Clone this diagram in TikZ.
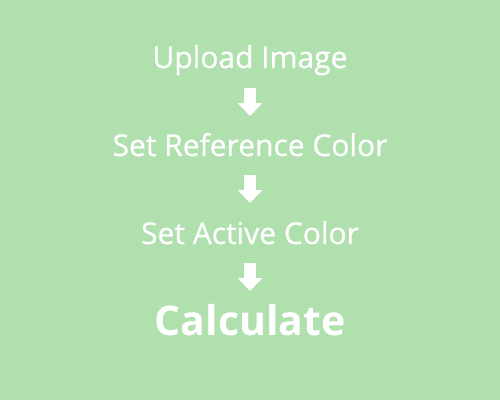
\documentclass[tikz,border=0pt]{standalone}
\usepackage{fontspec}
\setmainfont{Open Sans}
\newfontfamily\stepfont{Open Sans}[FakeBold=0.6]
\usetikzlibrary{arrows.meta}
\definecolor{bggreen}{RGB}{175,224,174}
\tikzset{
  steptext/.style={text=white, anchor=base, inner sep=0pt, font=\stepfont\fontsize{30}{34}\selectfont},
  finaltext/.style={text=white, anchor=base, inner sep=0pt, font=\fontsize{41}{46}\selectfont\bfseries},
  flowarrow/.style={draw=white, line width=12pt, -{Triangle[width=24pt,length=13pt]}}
}
\begin{document}
\begin{tikzpicture}[x=1pt,y=-1pt]
\fill[bggreen] (0,0) rectangle (500,400);
\useasboundingbox (0,0) rectangle (500,400);
\node[steptext] (upload) at (250,68) {Upload Image};
\node[steptext] (ref) at (250,156) {Set Reference Color};
\node[steptext] (active) at (250,244) {Set Active Color};
\node[finaltext] (calc) at (250,335) {Calculate};
\coordinate (a1s) at (250,88);  \coordinate (a1e) at (250,116);
\coordinate (a2s) at (250,175); \coordinate (a2e) at (250,203);
\coordinate (a3s) at (250,263); \coordinate (a3e) at (250,291);
\draw[flowarrow] (a1s) -- (a1e);
\draw[flowarrow] (a2s) -- (a2e);
\draw[flowarrow] (a3s) -- (a3e);
\end{tikzpicture}
\end{document}
